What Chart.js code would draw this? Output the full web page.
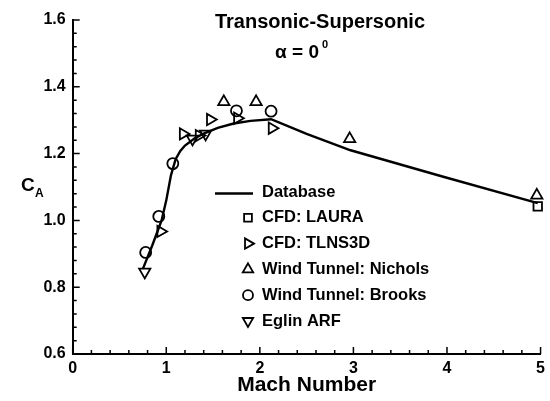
<!DOCTYPE html>
<html>
<head>
<meta charset="utf-8">
<script src="https://cdn.jsdelivr.net/npm/chart.js@4.4.1/dist/chart.umd.min.js"></script>
<style>
  html, body { margin: 0; padding: 0; background: #fff; }
  #wrap { width: 550px; height: 401px; position: relative; }
</style>
</head>
<body>
<div id="wrap"><canvas id="ca"></canvas></div>
<script>
'use strict';

// Database curve
const dbMach = [0.75, 0.85, 0.95, 1.0, 1.05, 1.1, 1.15, 1.2, 1.3, 1.4, 1.55, 1.72, 1.9, 2.12, 2.5, 2.97, 3.97, 4.97];
const dbCA   = [0.855, 0.925, 1.0, 1.06, 1.135, 1.183, 1.208, 1.224, 1.245, 1.26, 1.277, 1.29, 1.298, 1.303, 1.259, 1.21, 1.13, 1.052];

// CFD: LAURA
const lauraMach = [4.97];
const lauraCA   = [1.042];

// CFD: TLNS3D
const tlnsMach = [0.94, 1.18, 1.35, 1.47, 1.76, 2.13];
const tlnsCA   = [0.967, 1.259, 1.254, 1.302, 1.306, 1.276];

// Wind Tunnel: Nichols
const nicholsMach = [1.615, 1.96, 2.96, 4.96];
const nicholsCA   = [1.355, 1.355, 1.244, 1.075];

// Wind Tunnel: Brooks
const brooksMach = [0.78, 0.92, 1.07, 1.75, 2.12];
const brooksCA   = [0.904, 1.012, 1.170, 1.328, 1.327];

// Eglin ARF
const eglinMach = [0.77, 1.28, 1.42];
const eglinCA   = [0.846, 1.244, 1.259];

const xTicks = [0, 1, 2, 3, 4, 5];
const yTicks = [0.6, 0.8, 1.0, 1.2, 1.4, 1.6];

const FONT = '"Liberation Sans", Arial, Helvetica, sans-serif';

const pts = (xs, ys) => xs.map((x, i) => ({ x, y: ys[i] }));

const marker = (label, xs, ys, style, rotation, radius) => ({
  label,
  data: pts(xs, ys),
  showLine: false,
  clip: false,
  pointStyle: style,
  rotation,
  pointRadius: radius,
  pointBorderWidth: 1.8,
  pointBorderColor: '#000',
  pointBackgroundColor: 'rgba(0,0,0,0)',
  legendRadius: radius - 0.5,
});

const datasets = [
  {
    label: 'Database',
    data: pts(dbMach, dbCA),
    showLine: true,
    clip: false,
    borderColor: '#000',
    borderWidth: 2.4,
    pointRadius: 0,
    tension: 0,
  },
  marker('CFD: LAURA', lauraMach, lauraCA, 'rect', 0, 6),
  marker('CFD: TLNS3D', tlnsMach, tlnsCA, 'triangle', 90, 6.5),
  marker('Wind Tunnel: Nichols', nicholsMach, nicholsCA, 'triangle', 0, 6.5),
  marker('Wind Tunnel: Brooks', brooksMach, brooksCA, 'circle', 0, 5.5),
  marker('Eglin ARF', eglinMach, eglinCA, 'triangle', 180, 6.5),
];

// inward major/minor ticks
const tickPlugin = {
  id: 'inTicks',
  afterDraw(chart) {
    const { ctx, scales: { x, y } } = chart;
    ctx.save();
    ctx.strokeStyle = '#000';
    ctx.lineWidth = 1.5;
    ctx.beginPath();
    for (let i = 0; i <= 25; i++) {
      const v = i * 0.2;
      const px = x.getPixelForValue(v);
      const len = i % 5 === 0 ? 7 : 4;
      ctx.moveTo(px, x.top);
      ctx.lineTo(px, x.top - len);
    }
    for (let i = 0; i <= 25; i++) {
      const v = 0.6 + i * 0.04;
      const py = y.getPixelForValue(v);
      const len = i % 5 === 0 ? 7 : 4;
      ctx.moveTo(y.right, py);
      ctx.lineTo(y.right + len, py);
    }
    ctx.stroke();
    ctx.restore();
  },
};

// titles and C_A label
const textPlugin = {
  id: 'texts',
  afterDraw(chart) {
    const { ctx } = chart;
    ctx.save();
    ctx.fillStyle = '#000';
    ctx.textBaseline = 'alphabetic';
    ctx.textAlign = 'center';
    ctx.font = `bold 20px ${FONT}`;
    ctx.fillText('Transonic-Supersonic', 320, 28);
    ctx.font = `bold 19px ${FONT}`;
    ctx.fillText('α = 0', 297, 58);
    ctx.font = `bold 11px ${FONT}`;
    ctx.fillText('0', 325, 48);

    ctx.textAlign = 'left';
    ctx.font = `bold 19px ${FONT}`;
    ctx.fillText('C', 21, 191);
    ctx.font = `bold 12px ${FONT}`;
    ctx.fillText('A', 35, 197);
    ctx.restore();
  },
};

// legend inside plot area
const legendPlugin = {
  id: 'inLegend',
  afterDraw(chart) {
    const { ctx } = chart;
    const x0 = 248, tx = 262, y0 = 192, step = 25.8;
    ctx.save();
    ctx.font = `bold 16.5px ${FONT}`;
    ctx.textBaseline = 'middle';
    ctx.textAlign = 'left';
    chart.data.datasets.forEach((ds, i) => {
      const yy = y0 + i * step;
      ctx.strokeStyle = '#000';
      if (ds.showLine) {
        ctx.lineWidth = 2.4;
        ctx.beginPath();
        ctx.moveTo(215, yy + 1.5);
        ctx.lineTo(253, yy + 1.5);
        ctx.stroke();
      } else {
        ctx.lineWidth = 1.8;
        ctx.fillStyle = 'rgba(0,0,0,0)';
        Chart.helpers.drawPoint(ctx, {
          pointStyle: ds.pointStyle,
          rotation: ds.rotation,
          radius: ds.legendRadius,
          borderWidth: 1.8,
        }, x0, yy);
      }
      ctx.fillStyle = '#000';
      ctx.fillText(ds.label, tx, yy);
    });
    ctx.restore();
  },
};

new Chart(document.getElementById('ca').getContext('2d'), {
  type: 'scatter',
  data: { datasets },
  options: {
    responsive: true,
    maintainAspectRatio: false,
    animation: false,
    layout: { padding: { top: 20, right: 7, left: 0, bottom: 0 } },
    plugins: {
      legend: { display: false },
      title: { display: false },
      tooltip: { enabled: false },
    },
    scales: {
      x: {
        type: 'linear',
        min: 0,
        max: 5,
        afterBuildTicks: s => { s.ticks = xTicks.map(v => ({ value: v })); },
        afterFit: s => { s.height = 47; },
        grid: { display: false, drawTicks: false },
        border: { display: true, color: '#000', width: 2 },
        ticks: {
          color: '#000',
          padding: 5,
          font: { family: FONT, size: 16, weight: 'bold' },
        },
        title: {
          display: true,
          text: 'Mach Number',
          color: '#000',
          padding: { top: 0, bottom: 3 },
          font: { family: FONT, size: 21, weight: 'bold' },
        },
      },
      y: {
        type: 'linear',
        min: 0.6,
        max: 1.6,
        afterBuildTicks: s => { s.ticks = yTicks.map(v => ({ value: v })); },
        afterFit: s => { s.width = 72.7; },
        grid: { display: false, drawTicks: false },
        border: { display: true, color: '#000', width: 2 },
        ticks: {
          color: '#000',
          padding: 7,
          font: { family: FONT, size: 16, weight: 'bold' },
          callback: v => v.toFixed(1),
        },
      },
    },
  },
  plugins: [tickPlugin, textPlugin, legendPlugin],
});
</script>
</body>
</html>
